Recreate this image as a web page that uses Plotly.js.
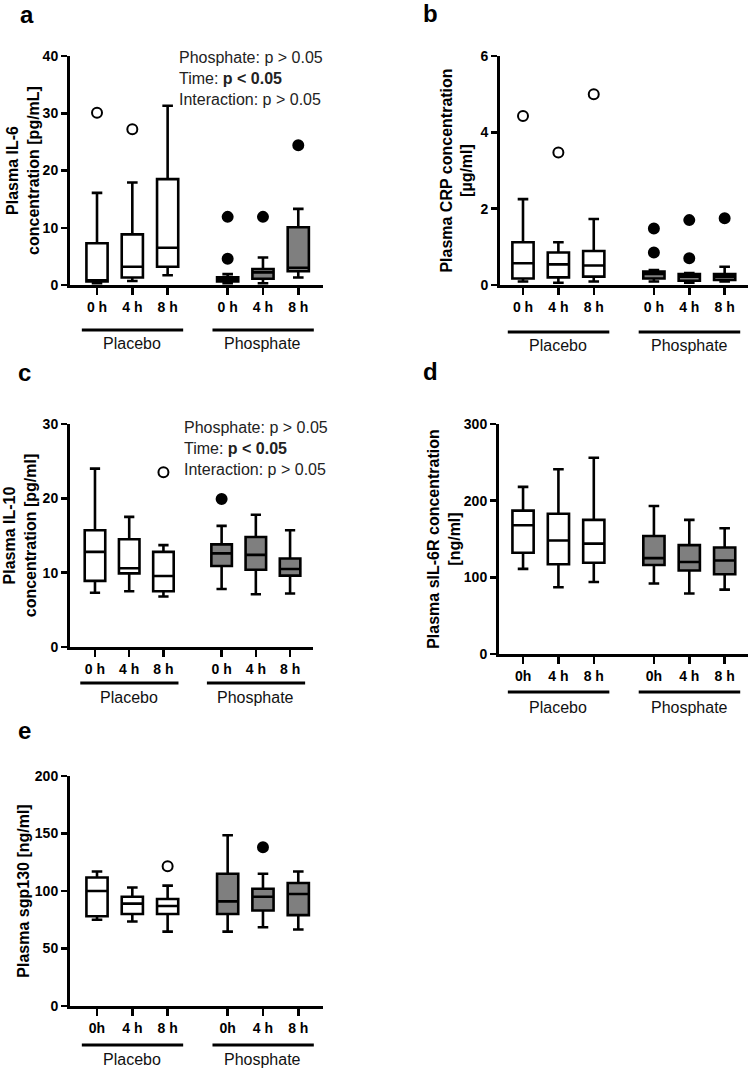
<!DOCTYPE html>
<html>
<head>
<meta charset="utf-8">
<script src="https://cdn.plot.ly/plotly-3.0.1.min.js"></script>
<style>html,body{margin:0;padding:0;background:#fff;}#chart{width:751px;height:1069px;}</style>
</head>
<body>
<div id="chart"></div>
<script>
// ---------- data ----------
const groups = ['Placebo', 'Phosphate'];
const positions = [0, 1, 2, 3.7, 4.7, 5.7];
const tickTextA = ['0 h', '4 h', '8 h', '0 h', '4 h', '8 h'];
const tickTextB = ['0h', '4 h', '8 h', '0h', '4 h', '8 h'];

// a: IL-6 [pg/mL]
const il6Lower  = [0.3, 0.7, 1.7, 0.3, 0.3, 1.3];
const il6Q1     = [0.6, 1.3, 3.2, 0.6, 1.1, 2.4];
const il6Median = [0.8, 3.2, 6.5, 0.9, 2.2, 3.0];
const il6Q3     = [7.3, 8.85, 18.5, 1.35, 2.8, 10.1];
const il6Upper  = [16.1, 17.9, 31.3, 1.9, 4.8, 13.3];
const il6Out    = [[30.1], [27.2], [], [11.9, 4.6], [11.9], [24.4]];

// b: CRP [µg/ml]
const crpLower  = [0.09, 0.06, 0.09, 0.09, 0.06, 0.09];
const crpQ1     = [0.17, 0.20, 0.22, 0.17, 0.11, 0.13];
const crpMedian = [0.57, 0.54, 0.51, 0.29, 0.22, 0.22];
const crpQ3     = [1.12, 0.85, 0.89, 0.35, 0.29, 0.29];
const crpUpper  = [2.25, 1.12, 1.73, 0.39, 0.31, 0.48];
const crpOut    = [[4.43], [3.47], [5.0], [1.48, 0.85], [1.70, 0.70], [1.75]];

// c: IL-10 [pg/ml]
const il10Lower  = [7.3, 7.5, 6.8, 7.8, 7.1, 7.2];
const il10Q1     = [8.9, 9.9, 7.5, 10.9, 10.4, 9.6];
const il10Median = [12.8, 10.6, 9.55, 12.6, 12.4, 10.5];
const il10Q3     = [15.7, 14.5, 12.8, 13.8, 14.8, 11.9];
const il10Upper  = [24.0, 17.5, 13.7, 16.3, 17.8, 15.7];
const il10Out    = [[], [], [23.5], [19.9], [], []];

// d: sIL-6R [ng/ml]
const sil6rLower  = [111, 87, 94, 92, 79, 84];
const sil6rQ1     = [132, 117, 119, 116, 109, 104];
const sil6rMedian = [168, 148, 144, 125, 120, 122];
const sil6rQ3     = [187, 183, 175, 154, 142, 139];
const sil6rUpper  = [218, 241, 256, 193, 175, 164];
const sil6rOut    = [[], [], [], [], [], []];

// e: sgp130 [ng/ml]
const sgpLower  = [75, 73.5, 64.7, 64.7, 68.5, 66.5];
const sgpQ1     = [78, 80, 80, 80, 83, 79];
const sgpMedian = [100, 89, 87, 91, 95, 97.4];
const sgpQ3     = [111.8, 95, 93, 115, 102, 107];
const sgpUpper  = [117, 103, 104.7, 148.5, 115, 117];
const sgpOut    = [[], [], [121.5], [], [138], []];

// ---------- layout helpers ----------
const W = 751, H = 1069;
const px = v => v / W;
const py = v => 1 - v / H;
const FONT = 'Liberation Sans, Arial, Helvetica, sans-serif';
const fillColors = ['#ffffff', '#7f7f7f'];

const panels = [
  {id: '', letter: 'a', lower: il6Lower, q1: il6Q1, med: il6Median, q3: il6Q3, up: il6Upper, out: il6Out,
   ticks: tickTextA, yrange: [0, 40], ytick: [0, 10, 20, 30, 40], xrange: [-0.765, 6.40],
   xdom: [70, 323], ydom: [285, 56], title: 'Plasma IL-6<br>concentration [pg/mL]', standoff: 0,
   letterPos: [27, 15], lineY: 330, labelY: 343, stats: [177, 47]},
  {id: '2', letter: 'b', lower: crpLower, q1: crpQ1, med: crpMedian, q3: crpQ3, up: crpUpper, out: crpOut,
   ticks: tickTextA, yrange: [0, 6], ytick: [0, 2, 4, 6], xrange: [-0.65, 6.36],
   xdom: [500, 748], ydom: [285, 56], title: 'Plasma CRP concentration<br>[µg/ml]', standoff: 4,
   letterPos: [430, 14], lineY: 332, labelY: 345, stats: null},
  {id: '3', letter: 'c', lower: il10Lower, q1: il10Q1, med: il10Median, q3: il10Q3, up: il10Upper, out: il10Out,
   ticks: tickTextA, yrange: [0, 30], ytick: [0, 10, 20, 30], xrange: [-0.73, 6.37],
   xdom: [70, 313], ydom: [647, 424], title: 'Plasma IL-10<br>concentration [pg/ml]', standoff: 3,
   letterPos: [24, 372], lineY: 683, labelY: 697, stats: [182, 417]},
  {id: '4', letter: 'd', lower: sil6rLower, q1: sil6rQ1, med: sil6rMedian, q3: sil6rQ3, up: sil6rUpper, out: sil6rOut,
   ticks: tickTextB, yrange: [0, 300], ytick: [0, 100, 200, 300], xrange: [-0.68, 6.36],
   xdom: [499, 748], ydom: [654, 424], title: 'Plasma sIL-6R concentration<br>[ng/ml]', standoff: 0,
   letterPos: [430, 371], lineY: 692, labelY: 707, stats: null},
  {id: '5', letter: 'e', lower: sgpLower, q1: sgpQ1, med: sgpMedian, q3: sgpQ3, up: sgpUpper, out: sgpOut,
   ticks: tickTextB, yrange: [0, 200], ytick: [0, 50, 100, 150, 200], xrange: [-0.765, 6.40],
   xdom: [70, 323], ydom: [1006, 776], title: 'Plasma sgp130 [ng/ml]', standoff: 2,
   letterPos: [24, 730], lineY: 1045, labelY: 1059, stats: null}
];

const data = [];
const layout = {
  width: W, height: H, margin: {l: 0, r: 0, t: 0, b: 0},
  paper_bgcolor: '#fff', plot_bgcolor: 'rgba(0,0,0,0)',
  showlegend: false, font: {family: FONT, color: '#000'},
  annotations: [], shapes: []
};

panels.forEach(p => {
  const xa = 'x' + p.id, ya = 'y' + p.id;
  groups.forEach((g, gi) => {
    const idx = [0, 1, 2].map(k => gi * 3 + k);
    data.push({
      type: 'box', orientation: 'v', name: g, xaxis: xa, yaxis: ya,
      x: idx.map(i => positions[i]),
      q1: idx.map(i => p.q1[i]), median: idx.map(i => p.med[i]), q3: idx.map(i => p.q3[i]),
      lowerfence: idx.map(i => p.lower[i]), upperfence: idx.map(i => p.up[i]),
      width: 0.6, whiskerwidth: 0.5, boxpoints: false,
      fillcolor: fillColors[gi], line: {color: '#000', width: 2.6}, hoverinfo: 'skip'
    });
    const ox = [], oy = [];
    idx.forEach(i => p.out[i].forEach(v => { ox.push(positions[i]); oy.push(v); }));
    data.push({
      type: 'scatter', mode: 'markers', xaxis: xa, yaxis: ya, x: ox, y: oy, name: g + ' outliers',
      marker: {symbol: 'circle', size: 10, color: gi === 0 ? '#fff' : '#000', line: {color: '#000', width: 2}},
      hoverinfo: 'skip', cliponaxis: false
    });
    // group bar + label
    const xs = idx.map(i => positions[i]);
    layout.shapes.push({type: 'line', xref: xa, yref: 'paper',
      x0: Math.min(...xs) - 0.43, x1: Math.max(...xs) + 0.44, y0: py(p.lineY), y1: py(p.lineY),
      line: {color: '#000', width: 3.2}});
    layout.annotations.push({xref: xa, yref: 'paper', x: (Math.min(...xs) + Math.max(...xs)) / 2, y: py(p.labelY),
      text: g, showarrow: false, xanchor: 'center', yanchor: 'middle', font: {size: 16, family: FONT, color: '#111'}});
  });

  const axKeyX = 'xaxis' + p.id, axKeyY = 'yaxis' + p.id;
  layout[axKeyX] = {
    domain: [px(p.xdom[0]), px(p.xdom[1])], range: p.xrange, anchor: ya,
    showline: true, linewidth: 3, linecolor: '#000', showgrid: false, zeroline: false,
    ticks: 'outside', ticklen: 7, tickwidth: 2.5, tickcolor: '#000',
    tickmode: 'array', tickvals: positions, ticktext: p.ticks,
    tickfont: {size: 14, family: FONT, weight: 'bold', color: '#000'}, fixedrange: true
  };
  layout[axKeyY] = {
    domain: [py(p.ydom[0]), py(p.ydom[1])], range: p.yrange, anchor: xa,
    showline: true, linewidth: 3, linecolor: '#000', showgrid: false, zeroline: false,
    ticks: 'outside', ticklen: 6, tickwidth: 2.5, tickcolor: '#000',
    tickmode: 'array', tickvals: p.ytick,
    tickfont: {size: 14, family: FONT, weight: 'bold', color: '#000'},
    title: {text: p.title, standoff: p.standoff, font: {size: 16, family: FONT, weight: 'bold', color: '#000'}},
    fixedrange: true
  };

  layout.annotations.push({xref: 'paper', yref: 'paper', x: px(p.letterPos[0]), y: py(p.letterPos[1]),
    text: '<b>' + p.letter + '</b>', showarrow: false, xanchor: 'center', yanchor: 'middle',
    font: {size: 24, family: FONT, color: '#000'}});

  if (p.stats) {
    layout.annotations.push({xref: 'paper', yref: 'paper', x: px(p.stats[0]), y: py(p.stats[1]),
      text: 'Phosphate: p &gt; 0.05<br>Time: <b>p &lt; 0.05</b><br>Interaction: p &gt; 0.05',
      showarrow: false, xanchor: 'left', yanchor: 'top', align: 'left',
      font: {size: 16, family: FONT, color: '#222'}});
  }
});

Plotly.newPlot('chart', data, layout, {displayModeBar: false, staticPlot: true});
</script>
</body>
</html>
